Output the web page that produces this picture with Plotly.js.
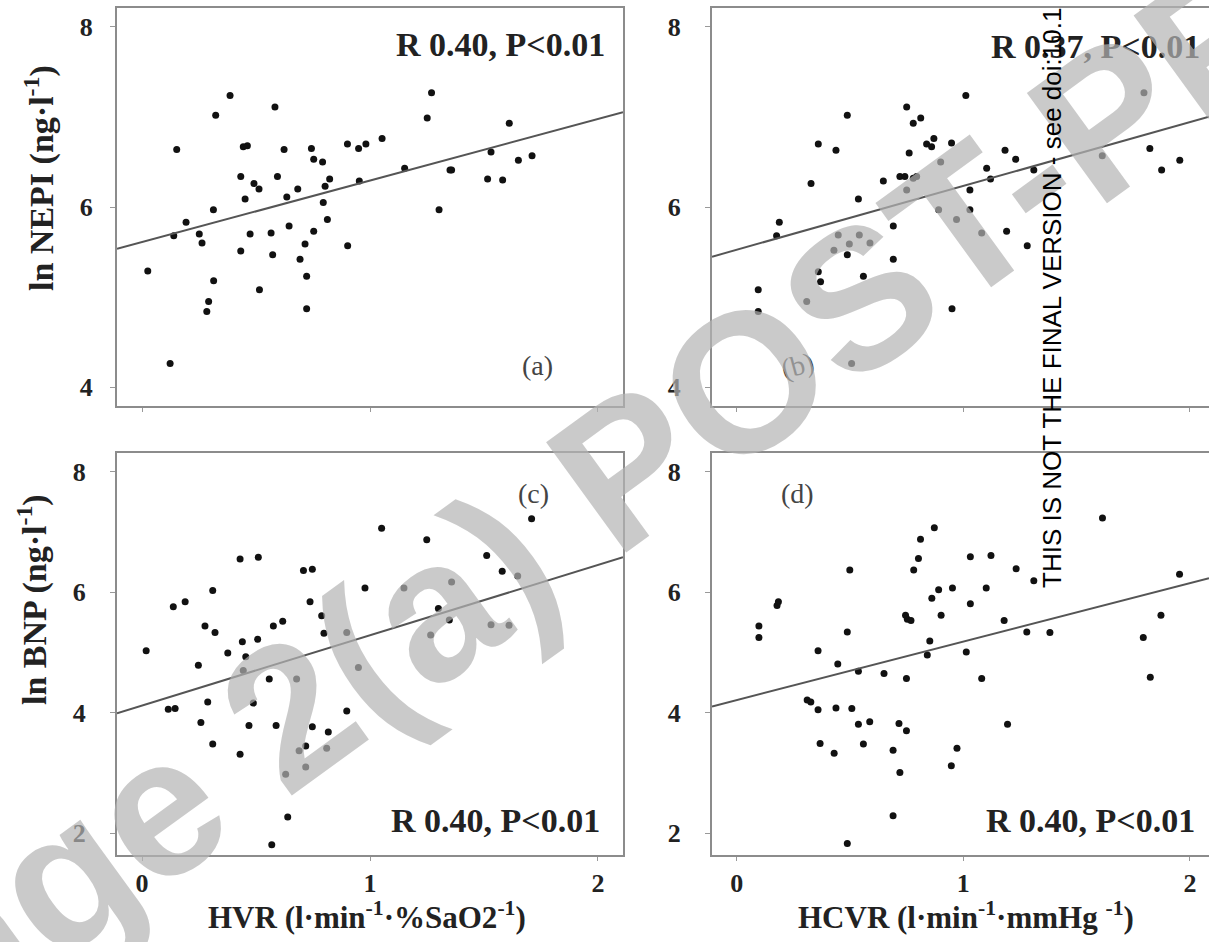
<!DOCTYPE html>
<html>
<head>
<meta charset="utf-8">
<script src="https://cdn.plot.ly/plotly-3.0.1.min.js"></script>
<style>html,body{margin:0;padding:0;background:#fff;overflow:hidden}#chart{width:1209px;height:942px}</style>
</head>
<body>
<div id="chart"></div>
<script>
// ---------- data ----------
const panelA_hvr = [0.025,0.123,0.152,0.139,0.193,0.251,0.263,0.313,0.314,0.292,0.284,0.323,0.386,0.433,0.452,0.444,0.462,0.433,0.474,0.491,0.513,0.515,0.566,0.573,0.583,0.594,0.623,0.635,0.645,0.683,0.693,0.715,0.722,0.722,0.743,0.753,0.753,0.792,0.795,0.803,0.813,0.823,0.901,0.902,0.950,0.953,0.982,1.053,1.152,1.251,1.270,1.303,1.351,1.358,1.516,1.531,1.582,1.611,1.651,1.711];
const panelA_nepi = [5.29,4.26,6.64,5.68,5.83,5.70,5.60,5.97,5.18,4.95,4.84,7.02,7.24,6.34,6.09,6.67,6.68,5.51,5.70,6.26,6.20,5.08,5.71,5.47,7.11,6.34,6.64,6.11,5.79,6.20,5.42,5.59,5.23,4.87,6.65,6.53,5.73,6.50,6.05,6.23,5.86,6.31,6.70,5.57,6.65,6.29,6.70,6.76,6.43,6.99,7.27,5.97,6.41,6.41,6.31,6.61,6.30,6.93,6.52,6.57];

const panelB_hcvr = [0.095,0.095,0.188,0.176,0.309,0.328,0.360,0.360,0.370,0.429,0.438,0.448,0.488,0.488,0.497,0.507,0.537,0.541,0.559,0.588,0.647,0.691,0.691,0.720,0.742,0.750,0.761,0.750,0.779,0.779,0.794,0.812,0.838,0.860,0.870,0.891,0.900,0.948,0.950,0.970,1.011,1.029,1.029,1.081,1.103,1.120,1.184,1.191,1.231,1.282,1.311,1.613,1.797,1.823,1.875,1.955];
const panelB_nepi = [5.08,4.84,5.83,5.68,4.95,6.26,6.70,5.28,5.17,5.52,6.63,5.69,7.02,5.47,5.59,4.26,6.09,5.69,5.23,5.60,6.29,5.79,5.42,6.34,6.34,7.11,6.60,6.19,6.93,6.32,6.34,6.99,6.70,6.67,6.76,5.97,6.50,6.71,4.87,5.86,7.24,6.19,5.97,5.71,6.43,6.31,6.63,5.73,6.53,5.57,6.41,6.57,7.27,6.65,6.41,6.52];

const panelC_hvr = [0.018,0.115,0.145,0.137,0.189,0.247,0.258,0.276,0.288,0.310,0.310,0.320,0.376,0.430,0.430,0.440,0.455,0.444,0.469,0.488,0.510,0.507,0.558,0.576,0.588,0.617,0.630,0.639,0.569,0.678,0.689,0.718,0.718,0.708,0.747,0.737,0.747,0.788,0.798,0.810,0.817,0.898,0.898,0.949,0.978,1.051,1.149,1.249,1.266,1.300,1.348,1.358,1.512,1.531,1.580,1.610,1.648,1.709];
const panelC_bnp = [5.03,4.06,4.07,5.76,5.84,4.79,3.84,5.44,4.18,6.03,3.48,5.33,4.99,3.31,6.55,5.18,4.93,4.70,3.79,4.16,6.58,5.22,4.56,5.44,3.79,5.52,2.98,2.27,1.81,4.56,3.37,3.45,3.10,6.36,6.38,5.84,3.77,5.61,5.32,3.41,3.68,5.33,4.03,4.75,6.07,7.06,6.07,6.87,5.29,5.73,5.54,6.17,6.61,5.46,6.35,5.45,6.27,7.22];

const panelD_hcvr = [0.098,0.098,0.178,0.184,0.311,0.327,0.359,0.359,0.368,0.430,0.438,0.446,0.488,0.488,0.499,0.508,0.537,0.537,0.559,0.587,0.650,0.690,0.690,0.716,0.720,0.749,0.749,0.753,0.769,0.745,0.781,0.802,0.811,0.841,0.852,0.861,0.872,0.891,0.902,0.947,0.952,0.972,1.013,1.031,1.031,1.081,1.101,1.122,1.180,1.195,1.233,1.280,1.311,1.382,1.614,1.794,1.825,1.872,1.954];
const panelD_bnp = [5.44,5.25,5.78,5.84,4.21,4.18,5.03,4.05,3.49,3.33,4.08,4.81,5.34,1.83,6.37,4.07,4.69,3.81,3.48,3.85,4.65,3.38,2.29,3.82,3.01,3.70,4.57,5.55,5.53,5.62,6.37,6.56,6.88,4.96,5.19,5.90,7.07,6.04,5.62,3.12,6.07,3.41,5.01,6.59,5.81,4.57,6.07,6.61,5.53,3.81,6.39,5.34,6.19,5.33,7.23,5.25,4.59,5.62,6.30];

const fitIntercepts = [5.61, 5.525, 4.12, 4.21];
const fitSlopes = [0.684, 0.709, 1.166, 0.97];
const statLabels = ['R 0.40, P&lt;0.01', 'R 0.37, P&lt;0.01', 'R 0.40, P&lt;0.01', 'R 0.40, P&lt;0.01'];
const panelLabels = ['(a)', '(b)', '(c)', '(d)'];
const xTickVals = [0, 1, 2];
const xTickText = ['0', '1', '2'];
const yTickValsTop = [4, 6, 8];
const yTickValsBottom = [2, 4, 6, 8];
const xTitles = ['HVR (l·min<sup>-1</sup>·%SaO2<sup>-1</sup>)', 'HCVR (l·min<sup>-1</sup>·mmHg <sup>-1</sup>)'];
const yTitles = ['ln NEPI (ng·l<sup>-1</sup>)', 'ln BNP (ng·l<sup>-1</sup>)'];
const watermarkText = 'Page 2(a) POST-PR';
const noticeText = 'THIS IS NOT THE FINAL VERSION - see doi:10.1';

// ---------- layout helpers ----------
const W = 1209, H = 942;
const px = v => v / W;
const py = v => 1 - v / H;

const xRanges = [[-0.11, 2.11], [-0.109, 2.084], [-0.11, 2.11], [-0.109, 2.084]];
const yRanges = [[3.789, 8.211], [3.789, 8.211], [1.64, 8.31], [1.64, 8.31]];
const xDomains = [[px(117), px(623)], [px(712), 1], [px(117), px(623)], [px(712), 1]];
const yDomains = [[py(406), py(8)], [py(406), py(8)], [py(855), py(453)], [py(855), py(453)]];

const series = [
  [panelA_hvr, panelA_nepi],
  [panelB_hcvr, panelB_nepi],
  [panelC_hvr, panelC_bnp],
  [panelD_hcvr, panelD_bnp]
];

const traces = [];
series.forEach((s, i) => {
  const xa = i === 0 ? 'x' : 'x' + (i + 1);
  const ya = i === 0 ? 'y' : 'y' + (i + 1);
  traces.push({
    type: 'scatter', mode: 'markers', x: s[0], y: s[1], xaxis: xa, yaxis: ya,
    marker: {color: '#111', size: 7}, hoverinfo: 'skip'
  });
  const xr = xRanges[i];
  traces.push({
    type: 'scatter', mode: 'lines', x: xr,
    y: xr.map(v => fitIntercepts[i] + fitSlopes[i] * v),
    xaxis: xa, yaxis: ya, line: {color: '#555', width: 2}, hoverinfo: 'skip'
  });
});

const tickFont = {family: 'Liberation Serif', size: 26, color: '#222', weight: 700};
const layout = {
  width: W, height: H, margin: {l: 0, r: 0, t: 0, b: 0},
  paper_bgcolor: '#fff', plot_bgcolor: '#fff', showlegend: false,
  annotations: []
};
for (let i = 0; i < 4; i++) {
  const sx = i === 0 ? '' : String(i + 1);
  const right = (i % 2 === 1);
  const bottom = i >= 2;
  layout['xaxis' + sx] = {
    domain: xDomains[i], range: xRanges[i], anchor: 'y' + sx,
    tickvals: xTickVals, ticktext: xTickText, showticklabels: bottom,
    ticks: 'outside', ticklen: 4, tickcolor: '#999', tickwidth: 1,
    showline: true, mirror: true, linecolor: '#8c8c8c', linewidth: 2,
    showgrid: false, zeroline: false, tickfont: tickFont, ticklabelstandoff: 0
  };
  layout['yaxis' + sx] = {
    domain: yDomains[i], range: yRanges[i], anchor: 'x' + sx,
    tickvals: bottom ? yTickValsBottom : yTickValsTop,
    ticks: 'outside', ticklen: 5, tickcolor: '#999', tickwidth: 1,
    showline: true, mirror: !right, linecolor: '#8c8c8c', linewidth: 2,
    showgrid: false, zeroline: false, tickfont: tickFont,
    ticklabelstandoff: (i === 0) ? 12 : 19
  };
}

// statistic labels
const statPos = [[607, 45], [1202, 47], [602, 820], [1197, 820]];
statPos.forEach((p, i) => layout.annotations.push({
  xref: 'paper', yref: 'paper', x: px(p[0]), y: py(p[1]), xanchor: 'right', yanchor: 'middle',
  text: statLabels[i], showarrow: false,
  font: {family: 'Liberation Serif', size: 34, color: '#222', weight: 700}
}));
// panel letters
const letterPos = [[537, 365], [797, 365], [533, 493], [797, 493]];
letterPos.forEach((p, i) => layout.annotations.push({
  xref: 'paper', yref: 'paper', x: px(p[0]), y: py(p[1]), xanchor: 'center', yanchor: 'middle',
  text: panelLabels[i], showarrow: false, textangle: i === 1 ? -15 : 0,
  font: {family: 'Liberation Serif', size: 28, color: '#444'}
}));
// axis titles
[[367, 915], [966, 915]].forEach((p, i) => layout.annotations.push({
  xref: 'paper', yref: 'paper', x: px(p[0]), y: py(p[1]), xanchor: 'center', yanchor: 'middle',
  text: xTitles[i], showarrow: false,
  font: {family: 'Liberation Serif', size: 31, color: '#222', weight: 700}
}));
[[40, 178], [32, 600]].forEach((p, i) => layout.annotations.push({
  xref: 'paper', yref: 'paper', x: px(p[0]), y: py(p[1]), xanchor: 'center', yanchor: 'middle',
  text: yTitles[i], showarrow: false, textangle: -90,
  font: {family: 'Liberation Serif', size: 34, color: '#222', weight: 700}
}));
// watermark
layout.annotations.push({
  xref: 'paper', yref: 'paper', x: px(548), y: py(524), xanchor: 'center', yanchor: 'middle',
  text: watermarkText, showarrow: false, textangle: -36,
  font: {family: 'Liberation Sans', size: 198, color: 'rgba(180,180,180,0.7)', weight: 700}
});
// vertical notice
layout.annotations.push({
  xref: 'paper', yref: 'paper', x: px(1052), y: py(590), xanchor: 'center', yanchor: 'bottom',
  text: noticeText, showarrow: false, textangle: -90,
  font: {family: 'Liberation Sans', size: 26, color: '#000'}
});

Plotly.newPlot('chart', traces, layout, {displayModeBar: false, staticPlot: true});
</script>
</body>
</html>
